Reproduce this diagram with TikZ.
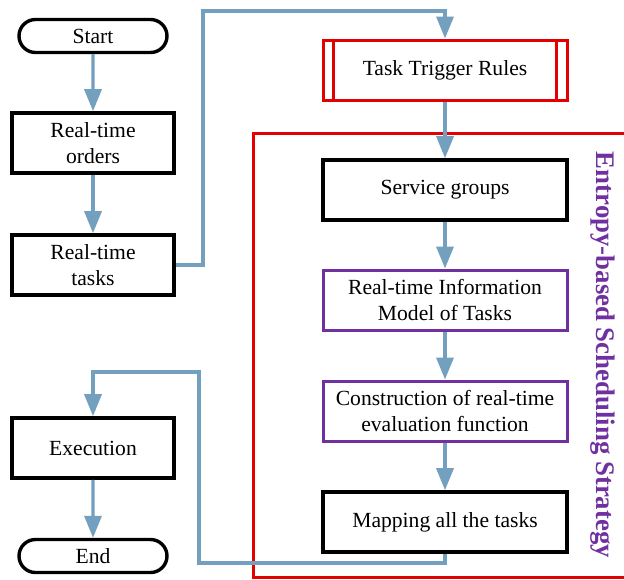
\documentclass[tikz,border=0pt]{standalone}
\usepackage{fontspec}
\setmainfont{Liberation Serif}
\usetikzlibrary{positioning}
\usetikzlibrary{arrows.meta}
\usetikzlibrary{shapes.misc}

\definecolor{flowblue}{RGB}{114,160,190}
\definecolor{rulered}{RGB}{226,0,0}
\definecolor{stratpurple}{RGB}{112,48,160}

\begin{document}
\begin{tikzpicture}[
  x=0.5pt, y=-0.5pt,
  font=\fontsize{10.8}{12.8}\selectfont,
  box/.style = {draw=black,line width=1.8pt,minimum width=81pt,minimum height=30pt,align=center,inner sep=2pt},
  widebox/.style = {box,minimum width=122pt},
  purplebox/.style = {widebox,draw=stratpurple,line width=1.5pt},
  terminal/.style = {draw=black,line width=1.7pt,rounded rectangle,minimum width=76pt,minimum height=16.5pt,inner sep=1pt},
  flow/.style = {draw=flowblue,line width=1.7pt,-{Triangle[width=8.5pt,length=11pt]}},
  region/.style = {draw=rulered,line width=1.5pt}
]

  \clip (0,0) rectangle (624,579);
  \useasboundingbox (0,0) rectangle (624,579);

  % scheduling strategy frame
  \draw[region] (253,133) rectangle (650,577);
  \node[text=stratpurple,rotate=-90,font=\fontsize{13.4}{16}\selectfont\bfseries] (strategy) at (603,355) {Entropy-based Scheduling Strategy};

  % left column
  \node[terminal] (start) at (93,36) {Start};
  \node[box] (orders) at (93,143) {Real-time\\orders};
  \node[box] (tasks) at (93,265) {Real-time\\tasks};
  \node[box] (exec) at (93,448) {Execution};
  \node[terminal] (end) at (93,556) {End};

  % right column
  \node[widebox,draw=rulered,line width=1.5pt] (trigger) at (445,70) {Task Trigger Rules};
  \draw[rulered,line width=1.5pt] ([xshift=6pt]trigger.north west) -- ([xshift=6pt]trigger.south west);
  \draw[rulered,line width=1.5pt] ([xshift=-6pt]trigger.north east) -- ([xshift=-6pt]trigger.south east);
  \node[widebox] (service) at (445,190) {Service groups};
  \node[purplebox] (model) at (445,300) {Real-time Information\\Model of Tasks};
  \node[purplebox] (evalfn) at (445,411) {Construction of real-time\\evaluation function};
  \node[widebox] (mapping) at (445,522) {Mapping all the tasks};

  \coordinate (upbend) at (203,11);
  \coordinate (lowbend) at (199,563);
  \coordinate (backbend) at (199,372);

  % connectors
  \draw[flow] (start) -- (orders);
  \draw[flow] (orders) -- (tasks);
  \draw[flow] (tasks.east) -| (upbend) -| (trigger.north);
  \draw[flow] (trigger) -- (service);
  \draw[flow] (service) -- (model);
  \draw[flow] (model) -- (evalfn);
  \draw[flow] (evalfn) -- (mapping);
  \draw[flow] (mapping.south) |- (lowbend) -- (backbend) -| (exec.north);
  \draw[flow] (exec) -- (end);

\end{tikzpicture}
\end{document}
